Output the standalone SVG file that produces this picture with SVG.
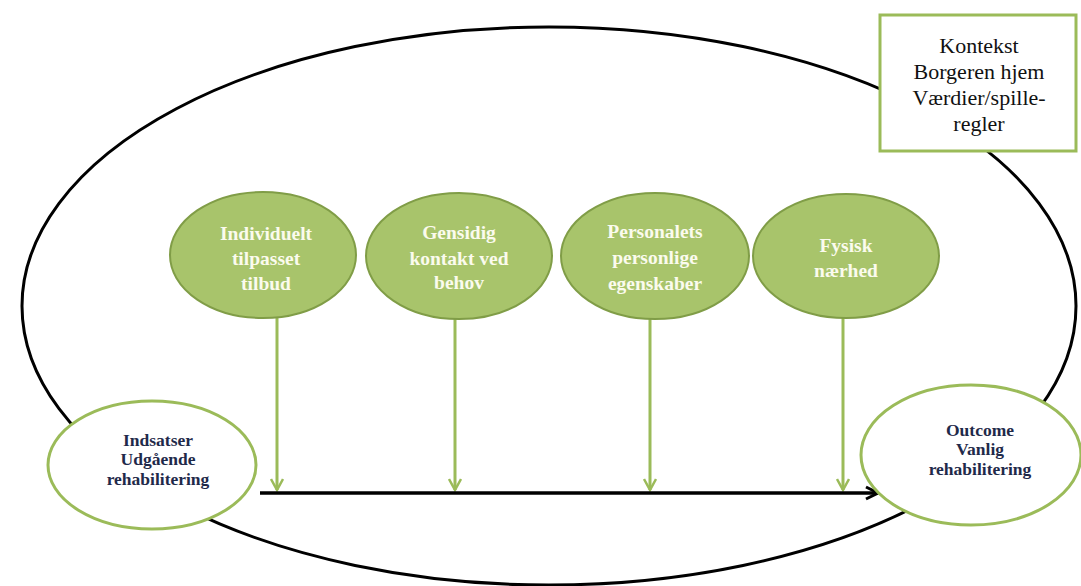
<svg xmlns="http://www.w3.org/2000/svg" width="1081" height="586" viewBox="0 0 1081 586">
  <defs>
    <style>
      .bg { fill: #ffffff; }
      .outer { fill: none; stroke: #000000; stroke-width: 3; }
      .factor { fill: #a8c46b; stroke: #809d47; stroke-width: 2; }
      .end { fill: #ffffff; stroke: #9bbb59; stroke-width: 3; }
      .ctx { fill: #ffffff; stroke: #9bbb59; stroke-width: 3; }
      .flow { stroke: #9bbb59; stroke-width: 3; fill: none; }
      .main { stroke: #000000; stroke-width: 3.5; fill: none; }
      text { font-family: "Liberation Serif", "DejaVu Serif", serif; text-anchor: middle; }
      .wt { fill: #fbfbee; font-size: 19.5px; font-weight: bold; }
      .dk { fill: #1f2a4a; font-size: 17.5px; font-weight: bold; }
      .ct { fill: #111111; font-size: 22px; }
    </style>
    <marker id="greenHead" viewBox="0 0 14 14" refX="12" refY="7" markerWidth="14" markerHeight="14" markerUnits="userSpaceOnUse" orient="auto">
      <path d="M1,1 L12,7 L1,13" fill="none" stroke="#9bbb59" stroke-width="2.5"/>
    </marker>
    <marker id="blackHead" viewBox="0 0 16 16" refX="14" refY="8" markerWidth="16" markerHeight="16" markerUnits="userSpaceOnUse" orient="auto">
      <path d="M2,2 L14,8 L2,14" fill="none" stroke="#000000" stroke-width="3"/>
    </marker>
  </defs>

  <rect class="bg" x="0" y="0" width="1081" height="586"/>

  <!-- surrounding context ellipse -->
  <ellipse class="outer" cx="549" cy="306" rx="527" ry="279"/>

  <!-- connectors -->
  <g id="connectors">
    <line class="flow" x1="277" y1="318" x2="277" y2="490" marker-end="url(#greenHead)"/>
    <line class="flow" x1="455" y1="318" x2="455" y2="490" marker-end="url(#greenHead)"/>
    <line class="flow" x1="650" y1="318" x2="650" y2="490" marker-end="url(#greenHead)"/>
    <line class="flow" x1="843" y1="300" x2="843" y2="490" marker-end="url(#greenHead)"/>
    <line class="main" x1="260" y1="493" x2="878" y2="493" marker-end="url(#blackHead)"/>
  </g>

  <g id="node-context">
    <rect class="ctx" x="880" y="15" width="196" height="136"/>
    <text class="ct" x="979" y="53">Kontekst</text>
    <text class="ct" x="979" y="79">Borgeren hjem</text>
    <text class="ct" x="979" y="105">Værdier/spille-</text>
    <text class="ct" x="979" y="131">regler</text>
  </g>

  <g id="node-individuelt">
    <ellipse class="factor" cx="263" cy="255" rx="93" ry="63"/>
    <text class="wt" x="266" y="240">Individuelt</text>
    <text class="wt" x="266" y="265">tilpasset</text>
    <text class="wt" x="266" y="290">tilbud</text>
  </g>

  <g id="node-gensidig">
    <ellipse class="factor" cx="459" cy="256" rx="93" ry="63"/>
    <text class="wt" x="459" y="239">Gensidig</text>
    <text class="wt" x="459" y="265">kontakt ved</text>
    <text class="wt" x="459" y="289">behov</text>
  </g>

  <g id="node-personalets">
    <ellipse class="factor" cx="655" cy="256" rx="94" ry="63"/>
    <text class="wt" x="655" y="238">Personalets</text>
    <text class="wt" x="655" y="264">personlige</text>
    <text class="wt" x="655" y="290">egenskaber</text>
  </g>

  <g id="node-fysisk">
    <ellipse class="factor" cx="846" cy="256" rx="93" ry="62"/>
    <text class="wt" x="846" y="252">Fysisk</text>
    <text class="wt" x="846" y="277">nærhed</text>
  </g>

  <g id="node-indsatser">
    <ellipse class="end" cx="152" cy="465" rx="104" ry="64"/>
    <text class="dk" x="158" y="446">Indsatser</text>
    <text class="dk" x="158" y="465">Udgående</text>
    <text class="dk" x="158" y="485">rehabilitering</text>
  </g>

  <g id="node-outcome">
    <ellipse class="end" cx="971" cy="455" rx="110" ry="70"/>
    <text class="dk" x="980" y="436">Outcome</text>
    <text class="dk" x="980" y="455">Vanlig</text>
    <text class="dk" x="980" y="475">rehabilitering</text>
  </g>
</svg>
